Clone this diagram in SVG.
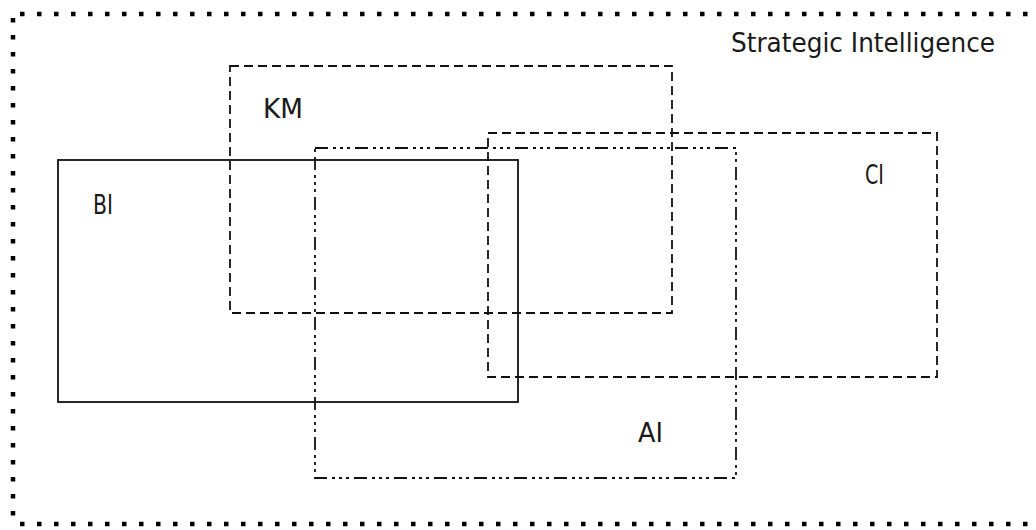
<svg xmlns="http://www.w3.org/2000/svg" width="1036" height="530" viewBox="0 0 1036 530">
<style>
.box{fill:none;stroke:#111;stroke-width:1.8}
.km{stroke-dasharray:9 5}
.ci{stroke-dasharray:9 5}
.ai{stroke-dasharray:13 5 3 4 3 4 3 5}
.dots{stroke:#000;stroke-width:4.5;stroke-dasharray:4.5 12.5;fill:none}
.lbl{font-family:"DejaVu Sans","Liberation Sans",sans-serif;font-size:26px;fill:#1a1a1a}
</style>
<rect width="1036" height="530" fill="#fff"/>
<g id="strategic-intelligence">
<line class="dots" x1="20" y1="14" x2="1036" y2="14"/>
<line class="dots" x1="13" y1="18" x2="13" y2="522"/>
<line class="dots" x1="20" y1="524" x2="1036" y2="524"/>
<text class="lbl" x="731" y="52" textLength="264" lengthAdjust="spacingAndGlyphs">Strategic Intelligence</text>
</g>
<g id="km">
<rect class="box km" x="230" y="66" width="442" height="247"/>
<text class="lbl" x="263" y="118" textLength="40" lengthAdjust="spacingAndGlyphs">KM</text>
</g>
<g id="ci">
<rect class="box ci" x="488" y="133" width="449" height="244"/>
<text class="lbl" x="865" y="184" textLength="19" lengthAdjust="spacingAndGlyphs">CI</text>
</g>
<g id="ai">
<rect class="box ai" x="315" y="148" width="421" height="330"/>
<text class="lbl" x="638" y="442" textLength="25" lengthAdjust="spacingAndGlyphs">AI</text>
</g>
<g id="bi">
<rect class="box" x="58" y="160" width="460" height="242"/>
<text class="lbl" x="93" y="214" textLength="20" lengthAdjust="spacingAndGlyphs">BI</text>
</g>
<g id="connectors"/>
</svg>
